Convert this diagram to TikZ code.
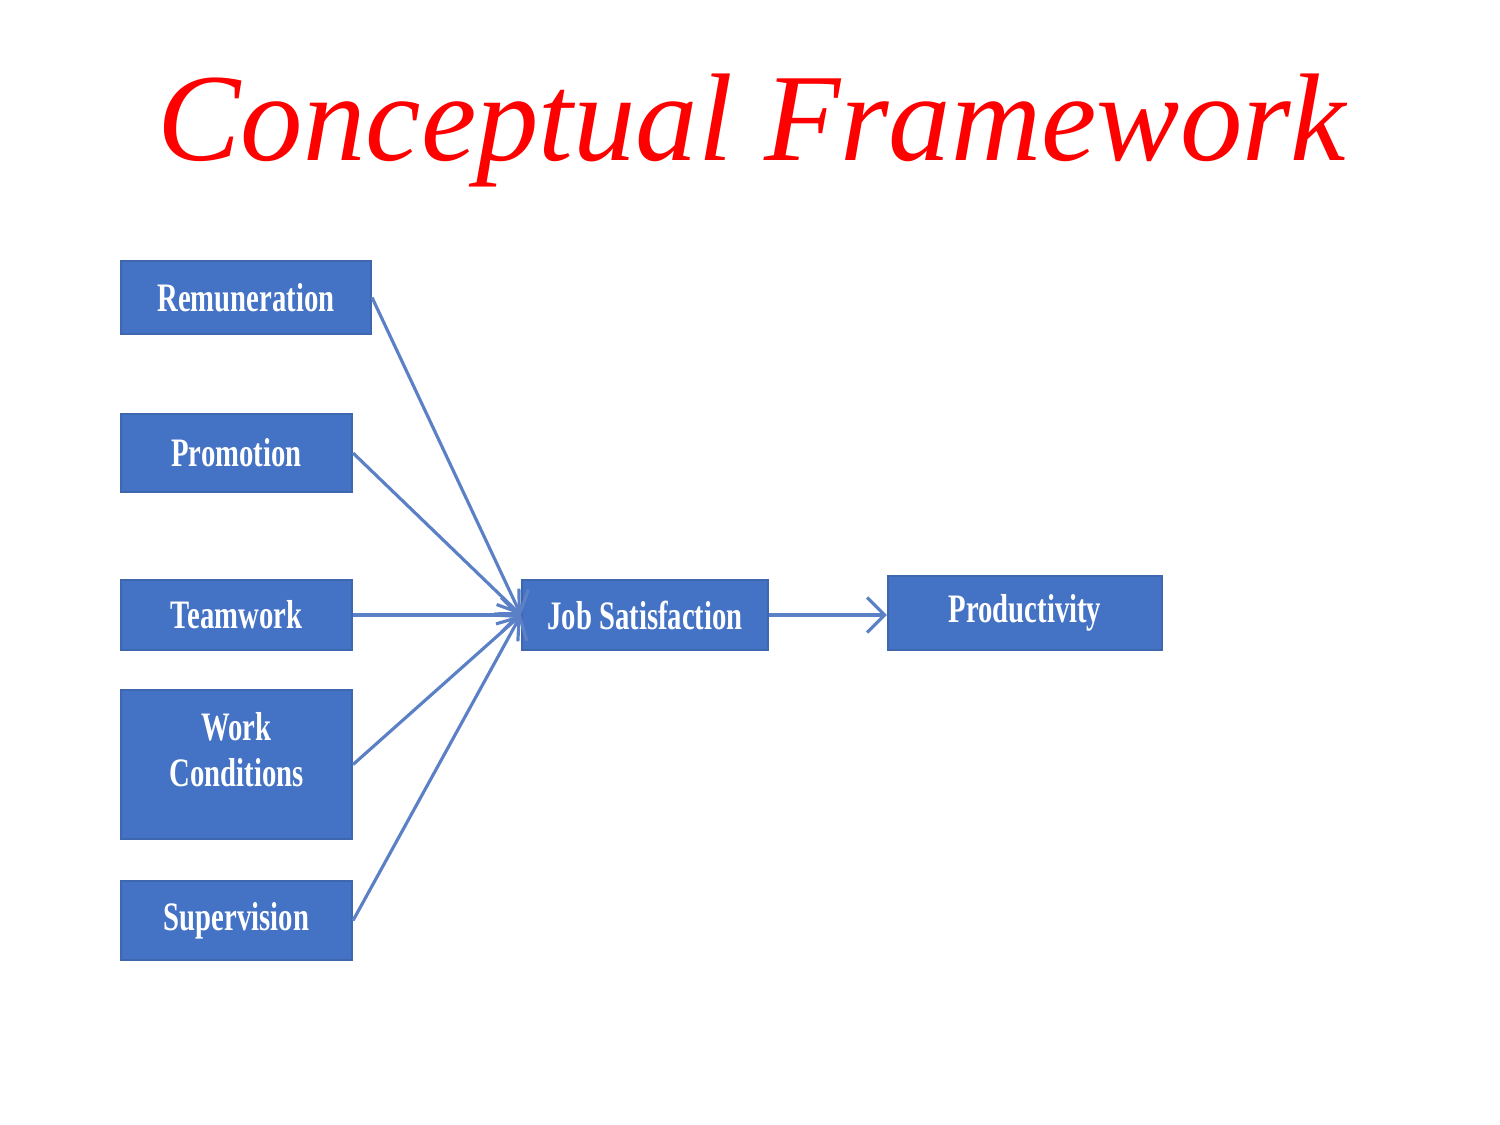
\documentclass[tikz,border=0pt]{standalone}
\usepackage{fontspec}
\usepackage{graphicx}
\setmainfont{Liberation Serif}
\usepackage{xcolor}
\usetikzlibrary{arrows.meta, positioning}

\definecolor{boxblue}{HTML}{4472C4}
\definecolor{boxline}{HTML}{3F67B0}
\definecolor{linkblue}{HTML}{5B80C6}
\newcommand{\narrowtxt}[1]{\scalebox{0.71}[1]{#1}}

\begin{document}
\begin{tikzpicture}[>={Straight Barb[length=5pt,width=10pt]},
  factor/.style={draw=boxline, fill=boxblue, text=white, line width=0.6pt,
    inner sep=0pt, font=\fontsize{11.5}{13}\selectfont\bfseries, align=center},
  link/.style={->, linkblue, line width=0.9pt}]
  \useasboundingbox (0,0) rectangle (15,-11.25);
  \node[text=red, font=\fontsize{35.5}{38}\selectfont\itshape] (title) at (7.52,-1.3) {Conceptual Framework};

  \node[factor, minimum width=2.50cm, minimum height=0.73cm] (rem) at (2.46,-2.975) {\narrowtxt{Remuneration}};
  \node[factor, minimum width=2.31cm, minimum height=0.78cm] (pro) at (2.365,-4.53) {\narrowtxt{Promotion}};
  \node[factor, minimum width=2.31cm, minimum height=0.70cm] (team) at (2.365,-6.15) {\narrowtxt{Teamwork}};
  \node[factor, minimum width=2.31cm, minimum height=1.49cm, text depth=0.3cm] (work) at (2.365,-7.645) {\narrowtxt{Work}\\\narrowtxt{Conditions}};
  \node[factor, minimum width=2.31cm, minimum height=0.79cm] (sup) at (2.365,-9.205) {\narrowtxt{Supervision}};

  \node[factor, minimum width=2.46cm, minimum height=0.70cm] (job) at (6.45,-6.15) {\narrowtxt{Job Satisfaction}};
  \node[factor, minimum width=2.74cm, minimum height=0.74cm] (prod) at (10.25,-6.13) {\narrowtxt{Productivity}};

  % factors feed job satisfaction
  \foreach \f in {rem, pro, team, work, sup}
    \draw[link] (\f.east) -- (job.west);
  \draw[link] (job.east) -- (job.east -| prod.west);
\end{tikzpicture}
\end{document}
